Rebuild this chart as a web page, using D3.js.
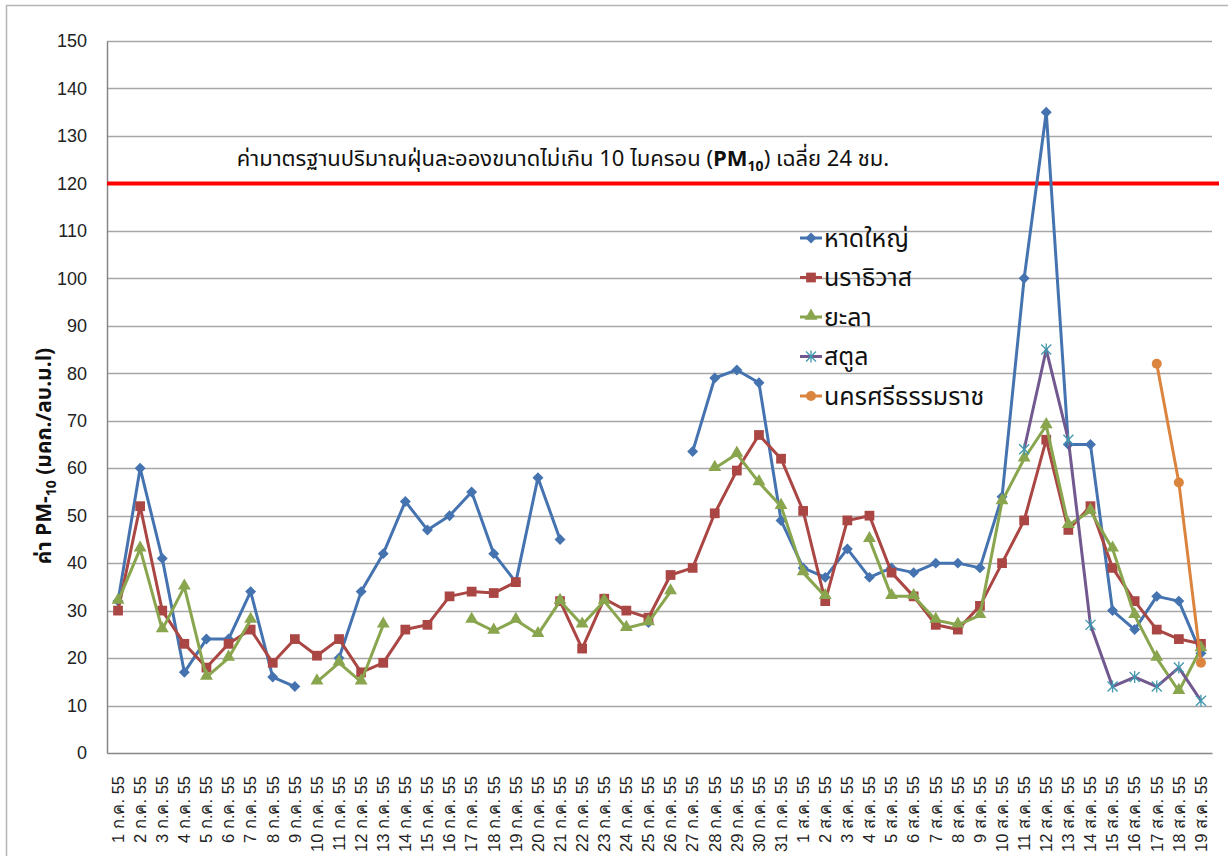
<!DOCTYPE html>
<html>
<head>
<meta charset="utf-8">
<script src="https://cdn.jsdelivr.net/npm/d3@7"></script>
<style>
  body { margin: 0; background: #fff; }
  svg { display: block; font-family: "Noto Sans Thai", "Tahoma", "Noto Sans", "DejaVu Sans", sans-serif; }
</style>
</head>
<body>
<svg id="chart"></svg>
<script>
// categories (dates)
const julDays = d3.range(1, 32).map(d => d + ' ก.ค. 55')
const augDays = d3.range(1, 20).map(d => d + ' ส.ค. 55')
const categories = julDays.concat(augDays)

const yTicks = d3.range(0, 151, 10)
const standardValue = 120

// series values (null = no data)
const hatyai = [32, 60, 41, 17, 24, 24, 34, 16, 14, null, 20, 34, 42, 53, 47, 50, 55, 42, 36, 58, 45, null, null, null, 27.5, null, 63.5, 79, 80.7, 78, 49,
    39, 37, 43, 37, 39, 38, 40, 40, 39, 54, 100, 135, 65, 65, 30, 26, 33, 32, 21]
const narathiwat = [30, 52, 30, 23, 18, 23, 26, 19, 24, 20.5, 24, 17, 19, 26, 27, 33, 34, 33.7, 36, null, 32, 22, 32.5, 30, 28.5, 37.5, 39, 50.5, 59.5, 67, 62,
    51, 32, 49, 50, 38, 33, 27, 26, 31, 40, 49, 66, 47, 52, 39, 32, 26, 24, 23]
const yala = [32, 43, 26, 35, 16, 20, 28, null, null, 15, 19, 15, 27, null, null, null, 28, 25.7, 28, 25, 32, 27, 32, 26.3, 27.5, 34, null, 60, 63, 57, 52,
    38, 33, null, 45, 33, 33, 28, 27, 29, 53, 62, 69, 48, 51, 43, 29, 20, 13, 22]
const satun = [null, null, null, null, null, null, null, null, null, null, null, null, null, null, null, null, null, null, null, null, null, null, null, null, null, null, null, null, null, null, null,
    null, null, null, null, null, null, null, null, null, null, 64, 85, 66, 27, 14, 16, 14, 18, 11]
const nakhon = [null, null, null, null, null, null, null, null, null, null, null, null, null, null, null, null, null, null, null, null, null, null, null, null, null, null, null, null, null, null, null,
    null, null, null, null, null, null, null, null, null, null, null, null, null, null, null, null, 82, 57, 19]

const series = [
    { name: 'หาดใหญ่', values: hatyai, color: '#4573B0', marker: 'diamond', mcolor: '#4573B0' },
    { name: 'นราธิวาส', values: narathiwat, color: '#AA4643', marker: 'square', mcolor: '#AA4643' },
    { name: 'ยะลา', values: yala, color: '#89A54E', marker: 'triangle', mcolor: '#89A54E' },
    { name: 'สตูล', values: satun, color: '#71588F', marker: 'star', mcolor: '#4198AF' },
    { name: 'นครศรีธรรมราช', values: nakhon, color: '#DB843D', marker: 'circle', mcolor: '#DB843D' }
]

const width = 1228
const height = 856
const plot = { left: 107, top: 41, right: 1212, bottom: 753 }

const svg = d3.select('#chart').attr('width', width).attr('height', height)

// outer chart border
svg.append('rect')
    .attr('x', 6.5).attr('y', 5.5)
    .attr('width', 1240).attr('height', 880)
    .attr('fill', 'none').attr('stroke', '#b5b5b5').attr('stroke-width', 1.5)

const x = d3.scaleBand().domain(categories).range([plot.left, plot.right])
const cx = (d) => x(d) + x.bandwidth() / 2
const y = d3.scaleLinear().domain([0, 150]).range([plot.bottom, plot.top])

// gridlines
svg.append('g')
    .selectAll('line')
    .data(yTicks.filter(t => t > 0))
    .join('line')
    .attr('x1', plot.left).attr('x2', plot.right)
    .attr('y1', d => Math.round(y(d)) + 0.5).attr('y2', d => Math.round(y(d)) + 0.5)
    .attr('stroke', '#a6a6a6').attr('stroke-width', 1.3)

// y axis
const yAxis = svg.append('g')
    .attr('transform', `translate(${plot.left},0)`)
    .call(d3.axisLeft(y).tickValues(yTicks).tickSize(0).tickPadding(20))
yAxis.select('.domain').attr('stroke', '#868686').attr('stroke-width', 1.5)
yAxis.selectAll('text').attr('font-size', 18).attr('fill', '#222').attr('font-family', 'inherit')

// x axis
const xAxis = svg.append('g')
    .attr('transform', `translate(0,${plot.bottom})`)
    .call(d3.axisBottom(x).tickSize(0).tickPadding(0))
xAxis.select('.domain').attr('stroke', '#868686').attr('stroke-width', 1.5)
xAxis.selectAll('text')
    .attr('font-size', 16.5).attr('fill', '#222').attr('font-family', 'inherit')
    .attr('text-anchor', 'end')
    .attr('dy', '0.35em')
    .attr('transform', 'translate(0,23) rotate(-90)')
    .attr('y', 0).attr('x', 0)

// y axis title
const yTitle = svg.append('text')
    .attr('transform', 'translate(51,456) rotate(-90)')
    .attr('text-anchor', 'middle')
    .attr('font-size', 21).attr('font-weight', 'bold').attr('fill', '#111')
yTitle.append('tspan').text('ค่า PM-')
yTitle.append('tspan').attr('font-size', 14).attr('dy', 5).text('10')
yTitle.append('tspan').attr('dy', -5).text(' (มคก./ลบ.ม.l)')

// standard line (120)
svg.append('line')
    .attr('x1', plot.left).attr('x2', 1219)
    .attr('y1', y(standardValue)).attr('y2', y(standardValue))
    .attr('stroke', '#FF0000').attr('stroke-width', 4)

const note = svg.append('text')
    .attr('x', 563).attr('y', 166)
    .attr('text-anchor', 'middle')
    .attr('font-size', 22).attr('fill', '#111')
note.append('tspan').text('ค่ามาตรฐานปริมาณฝุ่นละอองขนาดไม่เกิน 10 ไมครอน (')
note.append('tspan').attr('font-weight', 'bold').text('PM')
note.append('tspan').attr('font-weight', 'bold').attr('font-size', 14).attr('dy', 5).text('10')
note.append('tspan').attr('dy', -5).text(') เฉลี่ย 24 ชม.')

// markers
const drawMarker = (sel, s) => {
    if (s.marker === 'diamond') {
        sel.append('path').attr('d', d3.symbol(d3.symbolSquare, 60)())
            .attr('transform', 'rotate(45)').attr('fill', s.mcolor)
    } else if (s.marker === 'square') {
        sel.append('path').attr('d', d3.symbol(d3.symbolSquare, 95)()).attr('fill', s.mcolor)
    } else if (s.marker === 'triangle') {
        sel.append('path').attr('d', d3.symbol(d3.symbolTriangle, 72)())
            .attr('transform', 'translate(0,-1)').attr('fill', s.mcolor)
    } else if (s.marker === 'star') {
        sel.append('path').attr('d', 'M-5,-5L5,5M-5,5L5,-5M0,-6L0,6')
            .attr('stroke', s.mcolor).attr('stroke-width', 1.3).attr('fill', 'none')
    } else {
        sel.append('circle').attr('r', 5).attr('fill', s.mcolor)
    }
}

const line = d3.line()
    .defined(d => d.v != null)
    .x(d => cx(d.c))
    .y(d => y(d.v))

series.forEach((s) => {
    const pts = categories.map((c, i) => ({ c, v: s.values[i] }))
    const g = svg.append('g')
    g.append('path')
        .datum(pts)
        .attr('d', line)
        .attr('fill', 'none')
        .attr('stroke', s.color)
        .attr('stroke-width', 3)
        .attr('stroke-linejoin', 'round')
    g.selectAll('g.m')
        .data(pts.filter(d => d.v != null))
        .join('g')
        .attr('class', 'm')
        .attr('transform', d => `translate(${cx(d.c)},${y(d.v)})`)
        .each(function () { drawMarker(d3.select(this), s) })
})

// legend
const legend = svg.append('g').attr('transform', 'translate(800,238)')
series.forEach((s, i) => {
    const item = legend.append('g').attr('transform', `translate(0,${i * 39.5})`)
    item.append('line').attr('x1', 0).attr('x2', 22).attr('stroke', s.color).attr('stroke-width', 3)
    const m = item.append('g').attr('transform', 'translate(11,0)')
    drawMarker(m, s)
    item.append('text').attr('x', 24).attr('dy', '0.35em')
        .attr('font-size', 25).attr('fill', '#111').text(s.name)
})
</script>
</body>
</html>
